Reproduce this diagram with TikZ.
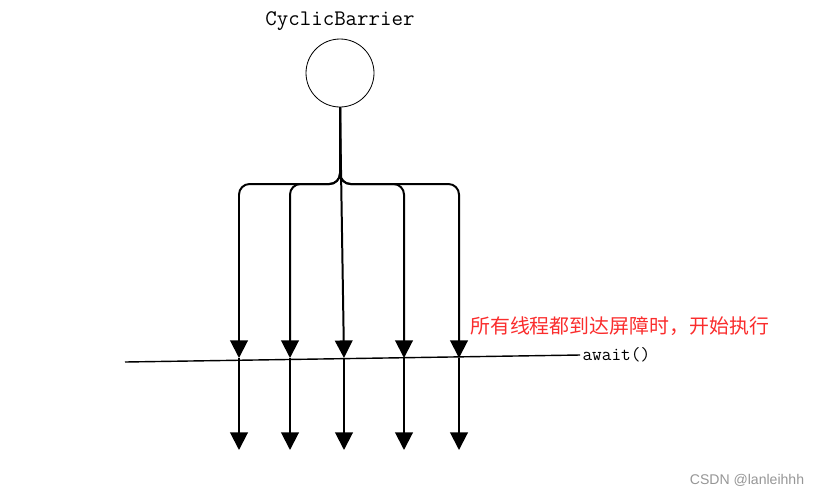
\documentclass[tikz,border=0pt]{standalone}
\usepackage{fontspec}
\newfontfamily\cjk{Noto Sans CJK SC}
\newfontfamily\wmfont{Liberation Sans}
\usetikzlibrary{arrows.meta,positioning}
\definecolor{notered}{RGB}{250,45,45}
\definecolor{wmgray}{RGB}{150,150,150}

\begin{document}
\begin{tikzpicture}[
  x=0.03cm, y=-0.03cm,
  barrier/.style={draw,circle,minimum size=68*0.03cm,inner sep=0pt,line width=0.7pt},
  thread/.style={line width=1.7pt,rounded corners=9pt},
  arr/.style={line width=1.7pt,-{Triangle[width=15pt,length=15pt]}},
]
  \useasboundingbox (0,0) rectangle (819,495);

  % barrier object
  \node[barrier] (cb) at (340,73) {};
  \node[font=\ttfamily\fontsize{19}{20}\selectfont] (title) at (340,21) {CyclicBarrier};

  % the await() line
  \coordinate (barL) at (125,362);
  \coordinate (barR) at (580,355);
  \draw[line width=1.2pt] (barL) -- (barR);
  \node[anchor=west,inner sep=2pt,font=\ttfamily\fontsize{16}{17}\selectfont] (await) at (barR) {await()};

  % note
  \node[anchor=west,inner sep=0pt,text=notered,font=\cjk\fontsize{17}{18}\selectfont] (note) at (470,326) {所有线程都到达屏障时，开始执行};

  % threads
  \foreach \name/\x in {a/239,b/290,c/344,d/404,e/459}{
    \coordinate (top\name) at (\x,358);
    \coordinate (bot\name) at (\x,450);
  }
  \draw[thread,arr] (cb.south) -- (340,184) -- (239,184) -- (topa);
  \draw[thread,arr] (cb.south) -- (340,184) -- (290,184) -- (topb);
  \draw[arr] (cb.south) -- (topc);
  \draw[thread,arr] (cb.south) -- (340,184) -- (404,184) -- (topd);
  \draw[thread,arr] (cb.south) -- (340,184) -- (459,184) -- (tope);

  \foreach \name in {a,b,c,d,e}
    \draw[arr] (top\name) -- (bot\name);

  % watermark
  \node[text=wmgray,font=\wmfont\fontsize{12}{13}\selectfont] (wm) at (747,480) {CSDN @lanleihhh};
\end{tikzpicture}
\end{document}
